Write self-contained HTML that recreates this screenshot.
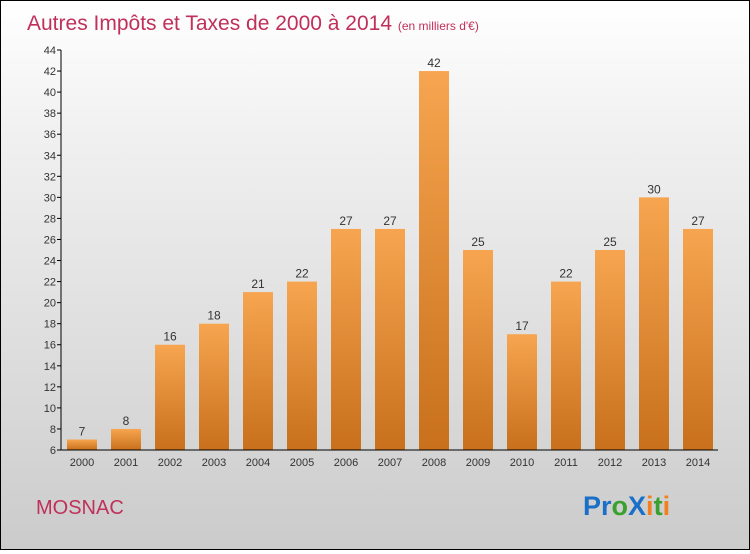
<!DOCTYPE html>
<html><head><meta charset="utf-8"><style>
html,body{margin:0;padding:0;}
body{width:750px;height:550px;overflow:hidden;font-family:"Liberation Sans",sans-serif;}
#wrap{position:relative;width:748px;height:548px;border:1px solid #000;background:linear-gradient(#ffffff 0%,#f0f0f0 25%,#d8d8d8 75%,#cbcbcb 100%);}
</style></head><body>
<div id="wrap">
<svg id="chart" width="748" height="548" xmlns="http://www.w3.org/2000/svg">
<defs><linearGradient id="bg" x1="0" y1="0" x2="0" y2="1"><stop offset="0" stop-color="#f7a550"/><stop offset="1" stop-color="#c8701c"/></linearGradient></defs>
<text x="26" y="29" font-size="21" fill="#c0305a">Autres Impôts et Taxes de 2000 à 2014 <tspan font-size="12">(en milliers d'€)</tspan></text>
<text x="35" y="513" font-size="20" fill="#c0305a">MOSNAC</text>
<text x="582" y="514" font-size="27" font-weight="bold"><tspan fill="#1a6fc8">Pr</tspan><tspan fill="#3aa030">o</tspan><tspan fill="#1a6fc8">X</tspan><tspan fill="#f08020">i</tspan><tspan fill="#3aa030">t</tspan><tspan fill="#f08020">i</tspan></text>
<g id="plot"></g>
</svg>
</div>
<script>
const categories=["2000","2001","2002","2003","2004","2005","2006","2007","2008","2009","2010","2011","2012","2013","2014"];
const values=[7,8,16,18,21,22,27,27,42,25,17,22,25,30,27];
const yTicks=[6,8,10,12,14,16,18,20,22,24,26,28,30,32,34,36,38,40,42,44];
const yMin=6,yMax=44,plotTop=49,plotBottom=449,plotLeft=60,plotRight=717;
function y(v){return plotBottom-(v-yMin)/(yMax-yMin)*(plotBottom-plotTop);}
function xc(i){return 81+i*44;}
const NS="http://www.w3.org/2000/svg",g=document.getElementById('plot');
function mk(t,a){const e=document.createElementNS(NS,t);for(const k in a)e.setAttribute(k,a[k]);g.appendChild(e);return e;}
values.forEach((v,i)=>{
 const r=mk('rect',{x:xc(i)-15,y:y(v),width:30,height:plotBottom-y(v),fill:'url(#bg)'});
 
 
 const t=mk('text',{x:xc(i),y:y(v)-4,'font-size':12,'text-anchor':'middle',fill:'#333'});
 t.textContent=v;
 
 
 const c=mk('text',{x:xc(i),y:plotBottom+16,'font-size':11,'text-anchor':'middle',fill:'#333'});
 c.textContent=categories[i];
 
 
});
yTicks.forEach(v=>{
 mk('line',{x1:plotLeft-4,x2:plotLeft,y1:y(v),y2:y(v),stroke:'#000'});
 const t=mk('text',{x:plotLeft-5,y:y(v)+4,'font-size':11,'text-anchor':'end',fill:'#333'});
 t.textContent=v;
 
 
});
const ya=mk('line',{x1:plotLeft,x2:plotLeft,y1:plotTop,y2:plotBottom,stroke:'#000'});


const xa=mk('line',{x1:plotLeft,x2:plotRight,y1:plotBottom,y2:plotBottom,stroke:'#000'});


</script>
</body></html>
